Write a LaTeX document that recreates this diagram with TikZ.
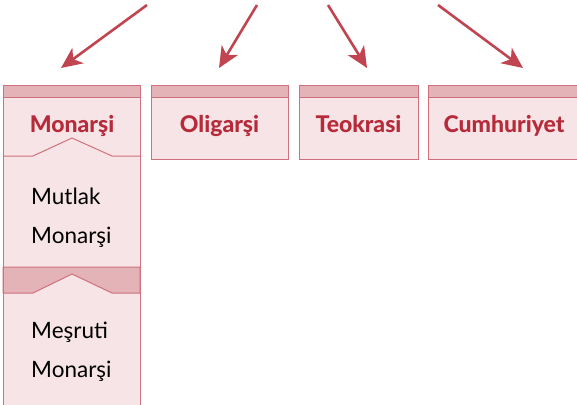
\documentclass[tikz,border=0pt]{standalone}
\usepackage{fontspec}
\setmainfont{Lato}
\newfontfamily\headfont{Lato Heavy}
\usetikzlibrary{arrows.meta}
\definecolor{boxfill}{HTML}{F6E4E6}
\definecolor{headfill}{HTML}{E4B3B7}
\definecolor{boxline}{HTML}{D0707C}
\definecolor{headtext}{HTML}{B72A3A}
\definecolor{arrowcol}{HTML}{C04550}
\tikzset{
  panel/.style={draw=boxline, fill=boxfill, line width=1pt, inner sep=0pt, outer sep=0pt, anchor=north west},
  strip/.style={draw=boxline, fill=headfill, line width=1pt},
  headlabel/.style={text=headtext, font=\fontsize{23}{25}\selectfont\headfont, inner sep=0pt, anchor=base},
  bodylabel/.style={text=black, font=\fontsize{22.5}{39}\selectfont, align=left, anchor=west, inner sep=0pt},
  pointer/.style={draw=arrowcol, line width=2.6pt, -{Stealth[length=21pt,width=19pt,inset=6pt]}}
}
\begin{document}
\begin{tikzpicture}[x=1pt,y=-1pt]
\useasboundingbox (0,0) rectangle (577,404);
\begin{scope}
\clip (0,0) rectangle (577,404);
% Monarsi column
\node[panel, minimum width=137pt, minimum height=330pt] (mon) at (3,85) {};
\fill[headfill] (3,85) rectangle (140,97);
\draw[boxline, line width=1pt] (3,97) -- (140,97);
\draw[boxline, line width=1pt] (3,156) -- (33,156) -- (72,138) -- (112,156) -- (140,156);
\draw[strip] (3,267) -- (140,267) -- (140,293) -- (112,293) -- (72,274) -- (33,293) -- (3,293) -- cycle;
\draw[boxline, line width=1pt] (3,85) rectangle (140,410);
% other boxes
\node[panel, minimum width=137pt, minimum height=74pt] (oli) at (151,85) {};
\node[panel, minimum width=119pt, minimum height=74pt] (teo) at (299,85) {};
\node[panel, minimum width=162pt, minimum height=74pt] (cum) at (428,85) {};
\foreach \b in {oli,teo,cum}{
  \draw[strip] (\b.north west) rectangle ([yshift=-12pt]\b.north east);
}
\end{scope}
% labels
\node[headlabel] (tmon) at (72,132.5) {Monarşi};
\node[headlabel] (toli) at (219.5,132.5) {Oligarşi};
\node[headlabel] (tteo) at (358.5,132.5) {Teokrasi};
\node[headlabel] (tcum) at (504,132.5) {Cumhuriyet};
\node[bodylabel] (mut) at (31,218) {Mutlak\\Monarşi};
\node[bodylabel] (mes) at (31,352) {Meşruti\\Monarşi};
% arrows
\coordinate (s1) at (147,5);   \coordinate (e1) at (61,68);
\coordinate (s2) at (257,5);   \coordinate (e2) at (219,68);
\coordinate (s3) at (328,5);   \coordinate (e3) at (367,68);
\coordinate (s4) at (438,5);   \coordinate (e4) at (523,68);
\draw[pointer] (s1) -- (e1);
\draw[pointer] (s2) -- (e2);
\draw[pointer] (s3) -- (e3);
\draw[pointer] (s4) -- (e4);
\end{tikzpicture}
\end{document}
